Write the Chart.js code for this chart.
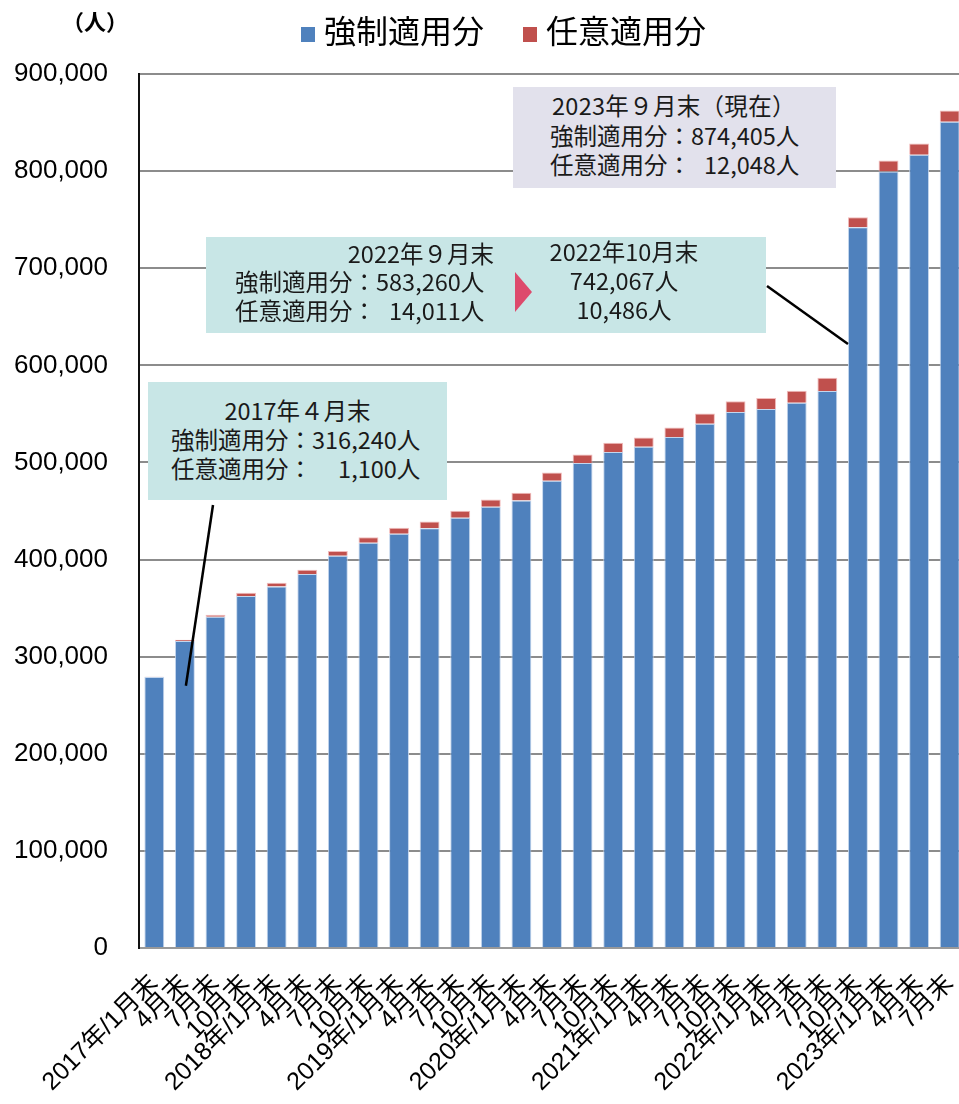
<!DOCTYPE html>
<html lang="ja">
<head>
<meta charset="utf-8">
<title>適用者数の推移</title>
<script src="https://cdn.jsdelivr.net/npm/chart.js@4/dist/chart.umd.min.js"></script>
<style>
  html, body { margin: 0; padding: 0; background: #fff; overflow: hidden; width: 959px; height: 1104px; }
  #wrap { position: absolute; left: 0; top: 0; width: 965px; height: 1104px; }
  .jp { font-family: "Noto Sans CJK JP", "Noto Sans", sans-serif; color: #1a1a1a; }
  .unit { position: absolute; left: 62px; top: 4px; font-size: 22px; font-weight: bold; color: #000; }
  .legend { position: absolute; top: 8px; font-size: 32px; line-height: 42px; color: #000; white-space: nowrap; }
  .legend i { display: inline-block; width: 14px; height: 15px; margin-right: 9px; vertical-align: 1px; }
  .box { position: absolute; }
  .line { position: absolute; font-size: 23.5px; line-height: 29px; white-space: nowrap; }
  .rows { position: absolute; font-size: 23.5px; line-height: 29px; white-space: nowrap;
          display: grid; grid-template-columns: auto auto; row-gap: 0; }
  .rows span:nth-child(2n) { text-align: right; }
  .tri { position: absolute; width: 0; height: 0; border-top: 20px solid transparent; border-bottom: 20px solid transparent; border-left: 17px solid #dd4a6c; }
</style>
</head>
<body>
<div id="wrap"><canvas id="c" width="965" height="1104"></canvas></div>

<div class="unit jp">（人）</div>
<div class="legend jp" style="left:301px;"><i style="background:#4f81bd"></i>強制適用分</div>
<div class="legend jp" style="left:523px;"><i style="background:#c0504d"></i>任意適用分</div>

<!-- 2017年4月末 -->
<div class="box" style="left:148px; top:382px; width:299px; height:118px; background:#c8e6e6;"></div>
<div class="line jp" style="left:148px; width:299px; top:396px; text-align:center;">2017年４月末</div>
<div class="rows jp" style="left:171px; top:425px; line-height:28.5px;">
  <span>強制適用分：</span><span>316,240人</span>
  <span>任意適用分：</span><span>1,100人</span>
</div>

<!-- 2022年9月末 → 10月末 -->
<div class="box" style="left:206px; top:237px; width:560px; height:96px; background:#c8e6e6;"></div>
<div class="line jp" style="left:290px; width:204px; top:239px; text-align:right;">2022年９月末</div>
<div class="rows jp" style="left:235px; top:267px;">
  <span>強制適用分：</span><span>583,260人</span>
  <span>任意適用分：</span><span>14,011人</span>
</div>
<div class="tri" style="left:515px; top:272px;"></div>
<div class="line jp" style="left:524px; width:200px; top:237px; text-align:center;">2022年10月末</div>
<div class="line jp" style="left:524px; width:200px; top:266px; text-align:center;">742,067人</div>
<div class="line jp" style="left:524px; width:200px; top:295px; text-align:center;">10,486人</div>

<!-- 2023年9月末（現在） -->
<div class="box" style="left:513px; top:87px; width:323px; height:101px; background:#e2e1ec;"></div>
<div class="line jp" style="left:552px; top:91px; letter-spacing:0.3px;">2023年９月末（現在）</div>
<div class="rows jp" style="left:550px; top:121px;">
  <span>強制適用分：</span><span>874,405人</span>
  <span>任意適用分：</span><span>12,048人</span>
</div>

<script>
// 四半期末ごとの適用者数（人）
const categories = [
  '2017年/1月末', '4月末', '7月末', '10月末',
  '2018年/1月末', '4月末', '7月末', '10月末',
  '2019年/1月末', '4月末', '7月末', '10月末',
  '2020年/1月末', '4月末', '7月末', '10月末',
  '2021年/1月末', '4月末', '7月末', '10月末',
  '2022年/1月末', '4月末', '7月末', '10月末',
  '2023年/1月末', '4月末', '7月末'
];

// 強制適用分
const compulsory = [
  279000, 316240, 341200, 362500,
  372200, 385200, 403800, 417200,
  426500, 432300, 443000, 454300,
  460800, 481100, 499300, 510700,
  516200, 526100, 539900, 551900,
  555000, 561500, 573500, 742067,
  799700, 816800, 850800
];

// 任意適用分
const voluntary = [
  400, 1100, 2000, 3400,
  3800, 4400, 5100, 5800,
  6200, 6800, 7200, 7500,
  7900, 8500, 8900, 9500,
  9600, 10000, 10600, 11200,
  11300, 12300, 13600, 10486,
  11300, 11700, 11700
];

// 縦軸
const yMin = 0;
const yMax = 900000;
const yStep = 100000;

// 吹き出しの引き出し線：始点（枠の端）と、指し示す棒・値
const callouts = [
  { from: [213, 505], index: 1, value: 270000, edge: 'center' },
  { from: [767, 286], index: 23, value: 622000, edge: 'left' }
];

const calloutLines = {
  id: 'calloutLines',
  afterDatasetsDraw(chart) {
    const { ctx, scales } = chart;
    const meta = chart.getDatasetMeta(0);
    ctx.save();
    ctx.strokeStyle = '#000';
    ctx.lineWidth = 2.5;
    callouts.forEach(c => {
      const bar = meta.data[c.index];
      const x = c.edge === 'left' ? bar.x - bar.width / 2 : bar.x + 1;
      const y = scales.y.getPixelForValue(c.value);
      ctx.beginPath();
      ctx.moveTo(c.from[0], c.from[1]);
      ctx.lineTo(x, y);
      ctx.stroke();
    });
    ctx.restore();
  }
};

const tickFont = { family: '"Liberation Sans", Arial, "Noto Sans CJK JP", sans-serif', size: 26 };
const catFont = { family: '"Liberation Sans", Arial, "Noto Sans CJK JP", sans-serif', size: 25 };

new Chart(document.getElementById('c'), {
  type: 'bar',
  data: {
    labels: categories,
    datasets: [
      {
        label: '強制適用分',
        data: compulsory,
        backgroundColor: '#4f81bd',
        borderColor: 'rgba(190,210,235,0.9)',
        borderWidth: 1,
        barPercentage: 0.65,
        categoryPercentage: 1
      },
      {
        label: '任意適用分',
        data: voluntary,
        backgroundColor: '#c0504d',
        borderColor: 'rgba(240,180,180,0.9)',
        borderWidth: 1,
        barPercentage: 0.65,
        categoryPercentage: 1
      }
    ]
  },
  options: {
    responsive: false,
    animation: false,
    devicePixelRatio: 1,
    layout: { padding: { top: 74, right: 0, bottom: 0, left: 0 } },
    plugins: {
      legend: { display: false },
      tooltip: { enabled: false }
    },
    scales: {
      x: {
        stacked: true,
        grid: { display: false, drawTicks: false },
        border: { display: true, color: '#999', width: 2 },
        ticks: {
          autoSkip: false,
          minRotation: 45,
          maxRotation: 45,
          color: '#000',
          font: catFont,
          padding: 21
        },
        afterFit(scale) {
          scale.height = 156;
          scale.paddingLeft = 0;
          scale.paddingRight = 0;
        }
      },
      y: {
        stacked: true,
        min: yMin,
        max: yMax,
        grid: { color: '#8c8c8c', lineWidth: 2, drawTicks: false },
        border: { display: true, color: '#111', width: 2 },
        ticks: {
          stepSize: yStep,
          color: '#000',
          font: tickFont,
          padding: 31,
          callback: v => v.toLocaleString('en-US')
        },
        afterFit(scale) { scale.width = 139; }
      }
    }
  },
  plugins: [calloutLines]
});
</script>
</body>
</html>
